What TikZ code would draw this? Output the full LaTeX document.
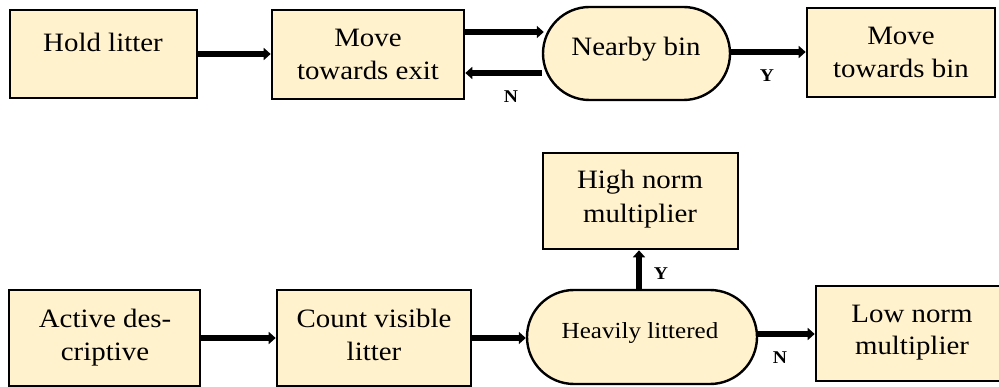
\documentclass[tikz,border=0pt]{standalone}
\usepackage{fontspec}
\setmainfont[FakeStretch=1.09]{Liberation Serif}
\usetikzlibrary{arrows.meta,shapes.misc,calc}
\definecolor{boxfill}{RGB}{255,242,204}
\begin{document}
\begin{tikzpicture}[x=1pt,y=-1pt,
  blk/.style={draw=black, line width=2.6pt, fill=boxfill, rectangle, inner sep=0pt},
  capsule/.style={draw=black, line width=2.4pt, fill=boxfill, rounded rectangle, inner sep=0pt},
  txt/.style={anchor=base, inner sep=0pt, font=\fontsize{26.5}{30}\selectfont},
  smalltxt/.style={anchor=base, inner sep=0pt, font=\fontsize{23}{27}\selectfont},
  yn/.style={anchor=base, inner sep=0pt, font=\fontsize{18}{20}\selectfont\bfseries},
  arr/.style={line width=6pt, -{Triangle[length=7pt,width=12pt]}}]

\useasboundingbox[fill=white] (0,0) rectangle (999,387);

% top row boxes
\node[blk, minimum width=187pt, minimum height=88pt] (hold) at (103.5,54) {};
\node[blk, minimum width=192pt, minimum height=89pt] (mte) at (368,54.5) {};
\node[capsule, minimum width=187pt, minimum height=93pt] (nb) at (636.5,53.5) {};
\node[blk, minimum width=188pt, minimum height=89pt] (mtb) at (901,52.5) {};

% bottom boxes
\node[blk, minimum width=191pt, minimum height=96pt] (act) at (104.5,338) {};
\node[blk, minimum width=194pt, minimum height=96pt] (cvl) at (374,338) {};
\node[capsule, minimum width=230pt, minimum height=94pt] (hl) at (642,337) {};
\node[blk, minimum width=195pt, minimum height=96pt] (hnm) at (640.5,201) {};
\node[blk, minimum width=192pt, minimum height=95pt] (lnm) at (912,333.5) {};

% texts
\node[txt] (t1) at (103,52) {Hold litter};
\node[txt] (t2a) at (368,47) {Move};
\node[txt] (t2b) at (368,80) {towards exit};
\node[txt] (t3) at (636,56) {Nearby bin};
\node[txt] (t4a) at (901,45) {Move};
\node[txt] (t4b) at (901,78) {towards bin};
\node[txt] (t5a) at (105,328) {Active des-};
\node[txt] (t5b) at (105,361) {criptive};
\node[txt] (t6a) at (374,328) {Count visible};
\node[txt] (t6b) at (374,361) {litter};
\node[smalltxt] (t7) at (640,339) {Heavily littered};
\node[txt] (t8a) at (640,189) {High norm};
\node[txt] (t8b) at (640,223) {multiplier};
\node[txt] (t9a) at (912,323) {Low norm};
\node[txt] (t9b) at (912,355) {multiplier};

% labels
\node[yn] (ny1) at (511,103) {N};
\node[yn] (yy1) at (767,82) {Y};
\node[yn] (yy2) at (661,280) {Y};
\node[yn] (ny2) at (780,363) {N};

% arrows
\draw[arr] (hold.east) -- (hold.east -| mte.west);
\draw[arr] ($(mte.east)+(0,-22.5)$) -- ($(nb.west)+(2,-21.5)$);
\draw[arr] ($(nb.west)+(0,19.5)$) -- ($(mte.east)+(0,18.5)$);
\draw[arr] ($(nb.east)+(0,-1.5)$) -- ($(nb.east -| mtb.west)+(0,-1.5)$);
\draw[arr] (act.east) -- (cvl.west);
\draw[arr] (cvl.east) -- (cvl.east -| hl.west);
\draw[arr] ($(hl.north)+(-3,0)$) -- ($(hnm.south)+(-1.5,0)$);
\draw[arr] ($(hl.east)+(0,-3)$) -- ($(hl.east -| lnm.west)+(0,-3)$);
\end{tikzpicture}
\end{document}
